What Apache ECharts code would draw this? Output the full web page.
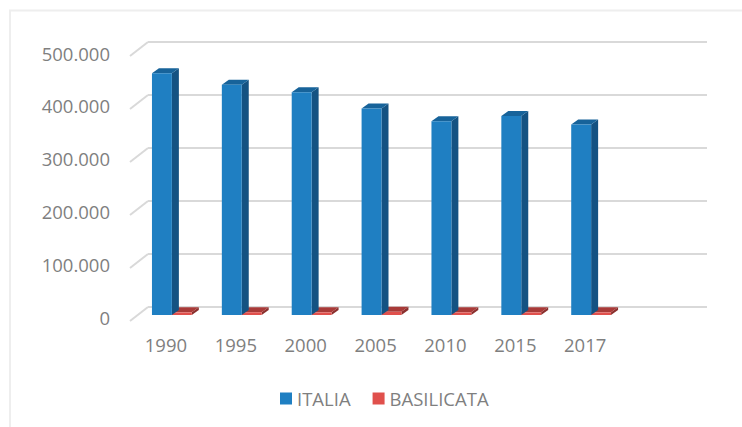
<!DOCTYPE html>
<html>
<head>
<meta charset="utf-8">
<style>
  html, body { margin: 0; padding: 0; background: #fff; }
  #chart { width: 742px; height: 427px; }
</style>
<script src="https://cdn.jsdelivr.net/npm/echarts@6/dist/echarts.min.js"></script>
</head>
<body>
<div id="chart"></div>
<script>
var years = ['1990', '1995', '2000', '2005', '2010', '2015', '2017', ''];
var italia = [458000, 436000, 422000, 391000, 367000, 377000, 361000];
var basilicata = [5000, 5000, 5000, 6000, 5000, 5000, 5000];
var gridTicks = [0, 100000, 200000, 300000, 400000, 500000];

var ink = '#7f7f7f';
var font = '"Open Sans", sans-serif';

function fmt(v) {
  return String(v).replace(/\B(?=(\d{3})+$)/g, '.');
}

// bars are faked 3D: front face, top and side polygons
function barRenderer(slot, front, top, side) {
  return function(params, api) {
    var cat = api.value(0);
    var base = api.coord([cat, 0]);
    var head = api.coord([cat, api.value(1)]);
    var band = api.size([1, 0])[0];
    var w = band * 0.285;
    var x = base[0] - band * 0.2 + slot * w;
    var dx = 7, dy = 5;
    var y0 = base[1], y1 = head[1];
    return {
      type: 'group',
      children: [
        { type: 'polygon', shape: { points: [[x + w, y1], [x + w + dx, y1 - dy], [x + w + dx, y0 - dy], [x + w, y0]] }, style: { fill: side } },
        { type: 'polygon', shape: { points: [[x, y1], [x + dx, y1 - dy], [x + w + dx, y1 - dy], [x + w, y1]] }, style: { fill: top } },
        { type: 'rect', shape: { x: x, y: y1, width: w, height: y0 - y1 }, style: { fill: front } }
      ]
    };
  };
}

// slanted floor/wall joint at the left of each gridline
function slantRenderer(params, api) {
  var p = api.coord([0, api.value(0)]);
  var left = p[0] - api.size([1, 0])[0] / 2;
  return {
    type: 'line',
    shape: { x1: left, y1: p[1], x2: left - 18, y2: p[1] + 14 },
    style: { stroke: '#d9d9d9', lineWidth: 2 }
  };
}

var chart = echarts.init(document.getElementById('chart'), null, { renderer: 'svg' });
chart.setOption({
  animation: false,
  backgroundColor: '#fff',
  graphic: [{
    type: 'polyline',
    silent: true,
    shape: { points: [[10, 427], [10, 10.5], [742, 10.5]] },
    style: { fill: 'none', stroke: '#eeeeee', lineWidth: 2 }
  }],
  legend: {
    data: ['ITALIA', 'BASILICATA'],
    left: 275,
    top: 384,
    icon: 'rect',
    itemWidth: 12,
    itemHeight: 12,
    itemGap: 22,
    textStyle: { color: ink, fontSize: 18.5, fontFamily: font }
  },
  // front plane for the bars, back wall for the gridlines, third one only carries the value labels
  grid: [
    { left: 131, top: 51, width: 559, height: 264 },
    { left: 148, top: 42, width: 559, height: 265 },
    { left: 131, top: 53, width: 559, height: 264 }
  ],
  xAxis: [
    {
      gridIndex: 0, type: 'category', data: years,
      axisLine: { show: false }, axisTick: { show: false },
      axisLabel: { color: ink, fontSize: 18.5, fontFamily: font, margin: 20 }
    },
    {
      gridIndex: 1, type: 'category', data: years,
      axisLine: { show: false }, axisTick: { show: false }, axisLabel: { show: false }
    },
    {
      gridIndex: 2, type: 'category', data: years, show: false
    }
  ],
  yAxis: [
    {
      gridIndex: 0, type: 'value', min: 0, max: 500000, interval: 100000,
      axisLine: { show: false }, axisTick: { show: false }, axisLabel: { show: false }, splitLine: { show: false }
    },
    {
      gridIndex: 1, type: 'value', min: 0, max: 500000, interval: 100000,
      axisLine: { show: false }, axisTick: { show: false }, axisLabel: { show: false },
      splitLine: { show: true, lineStyle: { color: '#d9d9d9', width: 2 } }
    },
    {
      gridIndex: 2, type: 'value', min: 0, max: 500000, interval: 100000,
      axisLine: { show: false }, axisTick: { show: false }, splitLine: { show: false },
      axisLabel: { color: ink, fontSize: 18.5, fontFamily: font, margin: 21, formatter: fmt }
    }
  ],
  series: [
    {
      name: 'slant', type: 'custom', xAxisIndex: 1, yAxisIndex: 1, silent: true, z: 1,
      encode: { y: 0 },
      data: gridTicks.map(function(v) { return [v]; }),
      renderItem: slantRenderer
    },
    {
      name: 'ITALIA', type: 'custom', xAxisIndex: 0, yAxisIndex: 0, z: 3,
      itemStyle: { color: '#1f7fc2' },
      encode: { x: 0, y: 1 },
      data: italia.map(function(v, i) { return [i, v]; }),
      renderItem: barRenderer(0, '#1f7fc2', '#17639a', '#145282')
    },
    {
      name: 'BASILICATA', type: 'custom', xAxisIndex: 0, yAxisIndex: 0, z: 2,
      itemStyle: { color: '#e0504c' },
      encode: { x: 0, y: 1 },
      data: basilicata.map(function(v, i) { return [i, v]; }),
      renderItem: barRenderer(1, '#e0504c', '#a83a38', '#8a2f2d')
    }
  ]
});
window.addEventListener('resize', function() { chart.resize(); });
</script>
</body>
</html>
